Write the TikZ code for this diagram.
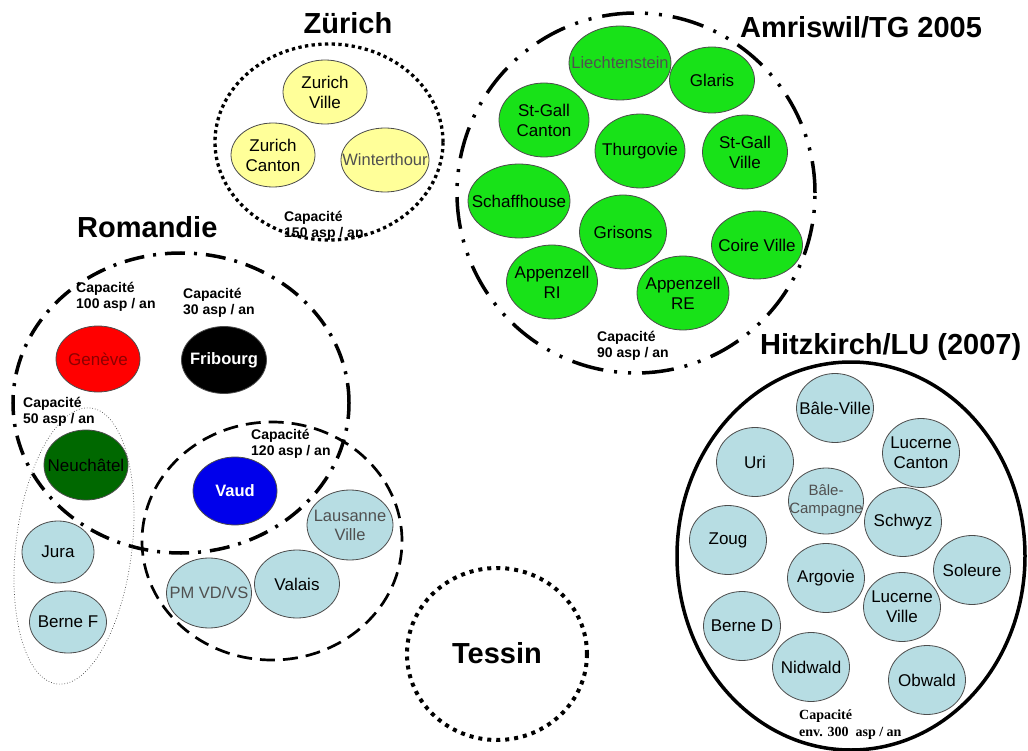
\documentclass[tikz,border=0pt]{standalone}
\usepackage{fontspec}
\setmainfont{Liberation Sans}
\newfontfamily\timesfont{Liberation Serif}
\usetikzlibrary{shapes.geometric}

\definecolor{paleyellow}{RGB}{255,255,153}
\definecolor{brightgreen}{RGB}{24,226,24}
\definecolor{paleblue}{RGB}{183,221,227}
\definecolor{darkgreen}{RGB}{0,104,0}
\definecolor{vaudblue}{RGB}{0,0,235}
\definecolor{genevetext}{RGB}{140,0,0}
\definecolor{thingray}{RGB}{80,80,80}

\tikzset{
  canton/.style={ellipse, draw=black!70, line width=0.8pt, inner sep=-30pt, align=center,
    font=\fontsize{17}{20}\selectfont},
  thin/.style={text=thingray, font=\fontsize{16.5}{19}\selectfont},
  grptitle/.style={inner sep=0pt, font=\fontsize{29}{34}\selectfont\bfseries},
  capa/.style={inner sep=0pt, anchor=north west, align=left,
    font=\fontsize{14}{16}\selectfont\bfseries},
  zdots/.style={line width=3.3pt, dash pattern=on 3.3pt off 3.4pt},
  tdots/.style={line width=4pt, dash pattern=on 4pt off 5pt},
  amrline/.style={line width=3.5pt, dash pattern=on 32pt off 11pt on 3pt off 11pt on 3pt off 11pt},
  romline/.style={line width=3.5pt, dash pattern=on 20pt off 9pt on 3pt off 9pt},
  vdline/.style={line width=2.7pt, dash pattern=on 15pt off 8pt},
  neline/.style={line width=0.7pt, draw=black!70, dotted},
  hitline/.style={line width=3.5pt}
}

\begin{document}
\begin{tikzpicture}[x=1pt,y=-1pt]
\useasboundingbox (0,0) rectangle (1028,751);

% regroupements
\draw[zdots] (329,142) ellipse [x radius=114pt, y radius=98pt];
\draw[amrline] (636,193) ellipse [x radius=179pt, y radius=180pt];
\draw[romline] (181,403) ellipse [x radius=168pt, y radius=150pt];
\draw[vdline] (272,541) ellipse [x radius=130pt, y radius=119pt];
\draw[neline, rotate around={-7:(74,546)}] (74,546) ellipse [x radius=58pt, y radius=139pt];
\draw[tdots] (497,654) ellipse [x radius=90pt, y radius=86pt];
\draw[hitline] (851,556) ellipse [x radius=174pt, y radius=194pt];

% titres
\node[grptitle, anchor=base] (tzurich) at (348,34) {Zürich};
\node[grptitle, anchor=base west] (tamriswil) at (740,38) {Amriswil/TG 2005};
\node[grptitle, anchor=base west] (tromandie) at (77,238) {Romandie};
\node[grptitle, anchor=base west] (thitzkirch) at (760,354) {Hitzkirch/LU (2007)};
\node[grptitle, anchor=base] (ttessin) at (497,663) {Tessin};

% Zurich
\foreach \nm/\x/\y/\w/\h/\txt in {zurville/325/92/84/64/{Zurich\\Ville},
    zurcanton/273/155/84/64/{Zurich\\Canton}}
  \node[canton, fill=paleyellow, minimum width=\w pt, minimum height=\h pt] (\nm) at (\x,\y) {\txt};
\node[canton, thin, fill=paleyellow, minimum width=88pt, minimum height=64pt] (winterthour) at (385,160) {Winterthour};
\node[capa] (cap150) at (284,211) {Capacité\\150 asp / an};

% Amriswil
\foreach \nm/\x/\y/\w/\h/\txt in {glaris/712/80/85/66/Glaris,
    sgcanton/544/120/90/74/{St-Gall\\Canton},
    thurgovie/640/151/90/74/Thurgovie,
    sgville/745/152/85/74/{St-Gall\\Ville},
    schaffhouse/519/201/102/74/Schaffhouse,
    grisons/623/232/87/74/Grisons,
    coire/757/245/91/68/Coire Ville,
    appri/552/282/91/74/{Appenzell\\RI},
    appre/683/293/92/74/{Appenzell\\RE}}
  \node[canton, fill=brightgreen, minimum width=\w pt, minimum height=\h pt] (\nm) at (\x,\y) {\txt};
\node[canton, thin, fill=brightgreen, minimum width=102pt, minimum height=74pt] (liechtenstein) at (620,63) {Liechtenstein};
\node[capa] (cap90) at (597,331) {Capacité\\90 asp / an};

% Romandie
\node[canton, fill=red, text=genevetext, minimum width=84pt, minimum height=66pt] (geneve) at (98,359) {Genève};
\node[canton, fill=black, text=white, font=\fontsize{16.5}{19}\selectfont\bfseries, minimum width=85pt, minimum height=67pt] (fribourg) at (224,360) {Fribourg};
\node[canton, fill=darkgreen, minimum width=84pt, minimum height=70pt] (neuchatel) at (86,465) {Neuchâtel};
\node[canton, fill=vaudblue, text=white, font=\fontsize{16.5}{19}\selectfont\bfseries, minimum width=84pt, minimum height=68pt] (vaud) at (235,491) {Vaud};
\foreach \nm/\x/\y/\w/\h/\txt in {jura/58/552/72/62/Jura,
    bernef/68/622/77/62/Berne F,
    valais/297/584/85/68/Valais}
  \node[canton, fill=paleblue, minimum width=\w pt, minimum height=\h pt] (\nm) at (\x,\y) {\txt};
\node[canton, thin, fill=paleblue, minimum width=86pt, minimum height=70pt] (lausanne) at (350,525) {Lausanne\\Ville};
\node[canton, thin, fill=paleblue, minimum width=85pt, minimum height=70pt] (pmvdvs) at (209,593) {PM VD/VS};
\node[capa] (cap100) at (76,282) {Capacité\\100 asp / an};
\node[capa] (cap30) at (183,288) {Capacité\\30 asp / an};
\node[capa] (cap50) at (23,397) {Capacité\\50 asp / an};
\node[capa] (cap120) at (251,429) {Capacité\\120 asp / an};

% Hitzkirch
\foreach \nm/\x/\y/\txt in {baleville/835/408/Bâle-Ville,
    lucernecanton/921/453/{Lucerne\\Canton},
    uri/755/462/Uri,
    schwyz/903/522/Schwyz,
    zoug/728/540/Zoug,
    soleure/972/570/Soleure,
    argovie/826/578/Argovie,
    lucerneville/902/607/{Lucerne\\Ville},
    berned/742/626/Berne D,
    nidwald/811/667/Nidwald,
    obwald/927/680/Obwald}
  \node[canton, fill=paleblue, minimum width=77pt, minimum height=69pt] (\nm) at (\x,\y) {\txt};
\node[canton, thin, fill=paleblue, font=\fontsize{15}{18}\selectfont, minimum width=75pt, minimum height=66pt] (balecamp) at (826,501) {Bâle-\\Campagne};
\node[capa, font=\fontsize{14}{17}\selectfont\timesfont\bfseries] (cap300) at (799,710) {Capacité\\env. 300~ asp / an};
\end{tikzpicture}
\end{document}
